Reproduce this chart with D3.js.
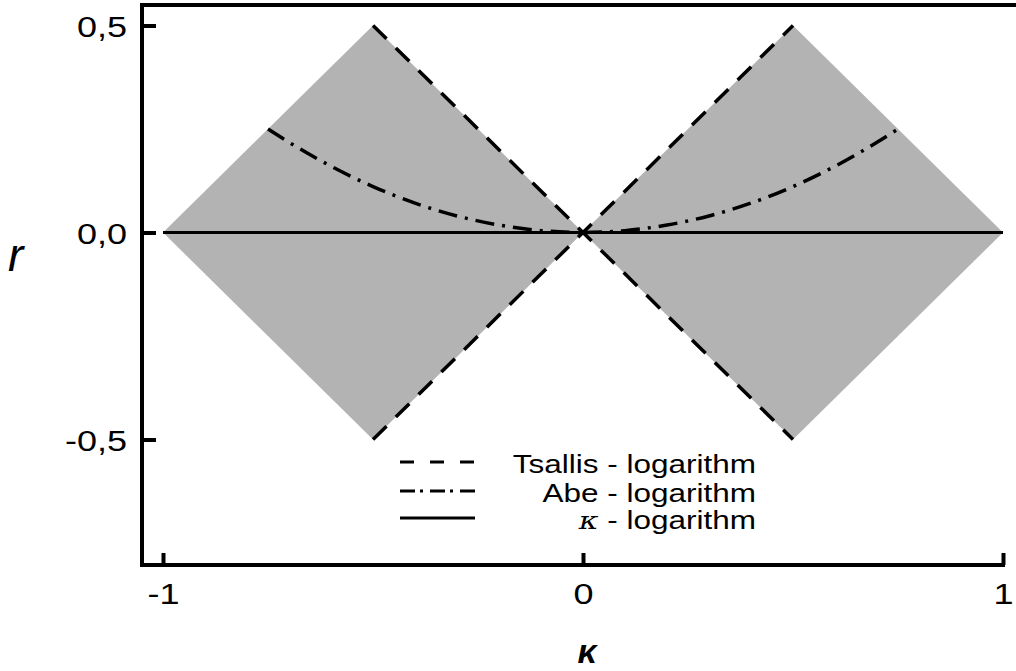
<!DOCTYPE html>
<html>
<head>
<meta charset="utf-8">
<script src="https://cdn.jsdelivr.net/npm/d3@7"></script>
<style>
body { margin:0; background:#fff; }
svg text { font-family: "Liberation Sans", Arial, sans-serif; fill:#000; }
</style>
</head>
<body>
<div id="chart"></div>
<script>
var svgWidth = 1016;
var svgHeight = 671;

// data
var xTicks = [-1, 0, 1];
var yTicks = [-0.5, 0, 0.5];
var leftDiamond = [[-1, 0], [-0.5, 0.5], [0, 0], [-0.5, -0.5]];
var rightDiamond = [[0, 0], [0.5, 0.5], [1, 0], [0.5, -0.5]];
var tsallisUp = [[-0.5, 0.5], [0, 0], [0.5, 0.5]];
var tsallisDown = [[-0.5, -0.5], [0, 0], [0.5, -0.5]];
var abeK = [-0.75, -0.7, -0.6, -0.5, -0.4, -0.3, -0.2, -0.1, 0, 0.1, 0.2, 0.3, 0.4, 0.5, 0.6, 0.7, 0.75];
var abeR = [0.25, 0.218, 0.16, 0.111, 0.071, 0.04, 0.018, 0.0045, 0, 0.0045, 0.018, 0.04, 0.071, 0.111, 0.16, 0.218, 0.25];
var kappaLog = [[-1, 0], [1, 0]];
var legendNames = ["Tsallis - logarithm", "Abe - logarithm", " - logarithm"];
var legendDash = ["14,16", "15,5,3,7", null];

var svg = d3.select("#chart").append("svg").attr("width", svgWidth).attr("height", svgHeight);

var xScale = d3.scaleLinear().domain([-1, 1]).range([163, 1003]);
var yScale = d3.scaleLinear().domain([-0.5, 0.5]).range([439.5, 25.5]);
var frameLeft = 142, frameTop = 5, frameBottom = 565;

var line = d3.line().x(d => xScale(d[0])).y(d => yScale(d[1]));

// gray regions
[leftDiamond, rightDiamond].forEach(function(p){
    svg.append("path").attr("d", line(p) + "Z").attr("fill", "#b3b3b3");
});

// kappa - logarithm (solid)
svg.append("path").attr("d", line(kappaLog)).attr("fill", "none").attr("stroke", "#000").attr("stroke-width", 3);

// Tsallis (dashed)
[tsallisUp, tsallisDown].forEach(function(p){
    svg.append("path").attr("d", line(p)).attr("fill", "none").attr("stroke", "#000")
        .attr("stroke-width", 3.5).attr("stroke-dasharray", "19,13");
});

// Abe (dash-dot)
var abe = abeK.map((k, i) => [k, abeR[i]]);
var curve = d3.line().x(d => xScale(d[0])).y(d => yScale(d[1])).curve(d3.curveMonotoneX);
svg.append("path").attr("d", curve(abe.slice(0, 9))).attr("fill", "none").attr("stroke", "#000")
    .attr("stroke-width", 3.5).attr("stroke-dasharray", "19,8,3,8");
svg.append("path").attr("d", curve(abe.slice(8))).attr("fill", "none").attr("stroke", "#000")
    .attr("stroke-width", 3.5).attr("stroke-dasharray", "19,8,3,8");

// axes
var leftAxis = d3.axisLeft(yScale).tickValues(yTicks).tickSize(-14).tickPadding(12.5)
    .tickFormat(d => d3.format(".1f")(d).replace(".", ",").replace("\u2212", "-"));
var bottomAxis = d3.axisBottom(xScale).tickValues(xTicks).tickSize(-12).tickPadding(18)
    .tickFormat(d => String(d));

var gy = svg.append("g").attr("transform", `translate(${frameLeft},0)`).call(leftAxis);
var gx = svg.append("g").attr("transform", `translate(0,${frameBottom})`).call(bottomAxis);
[gy, gx].forEach(function(g){
    g.select(".domain").remove();
    g.selectAll("line").attr("stroke", "#000").attr("stroke-width", 4);
    g.selectAll("text").attr("font-size", 30).attr("fill", "#000")
        .attr("font-family", "Liberation Sans, Arial, sans-serif");
});
gy.selectAll("text").attr("dy", "0.36em").attr("transform", "scale(1.2,1)");
gx.selectAll("text").attr("transform", "scale(1.2,1)");

// frame
svg.append("path").attr("d", `M${frameLeft},${frameBottom}V${frameTop}H${svgWidth}`)
    .attr("fill", "none").attr("stroke", "#000").attr("stroke-width", 4);
svg.append("line").attr("x1", frameLeft - 2).attr("x2", 1005).attr("y1", frameBottom).attr("y2", frameBottom)
    .attr("stroke", "#000").attr("stroke-width", 4);

// axis titles
svg.append("text").attr("x", 8).attr("y", 271).attr("font-size", 46).attr("font-style", "italic").text("r");
svg.append("text").attr("x", 587).attr("y", 663).attr("text-anchor", "middle")
    .attr("font-family", "DejaVu Serif, serif").attr("font-size", 34).attr("font-style", "italic")
    .attr("font-weight", "bold").text("κ");

// legend
var legendY = [462, 491, 518];
var legend = svg.append("g");
legendNames.forEach(function(name, i){
    var ln = legend.append("line").attr("x1", 400).attr("x2", 475).attr("y1", legendY[i]).attr("y2", legendY[i])
        .attr("stroke", "#000").attr("stroke-width", 3);
    if (legendDash[i]) ln.attr("stroke-dasharray", legendDash[i]);
    var t = legend.append("text").attr("transform", `translate(756,${legendY[i] + 11}) scale(1.26,1)`)
        .attr("text-anchor", "end").attr("font-size", 25);
    if (i === 2) {
        t.append("tspan").attr("font-family", "DejaVu Serif, serif").attr("font-style", "italic")
            .attr("font-size", 24).text("κ");
    }
    t.append("tspan").text(name);
});
</script>
</body>
</html>
